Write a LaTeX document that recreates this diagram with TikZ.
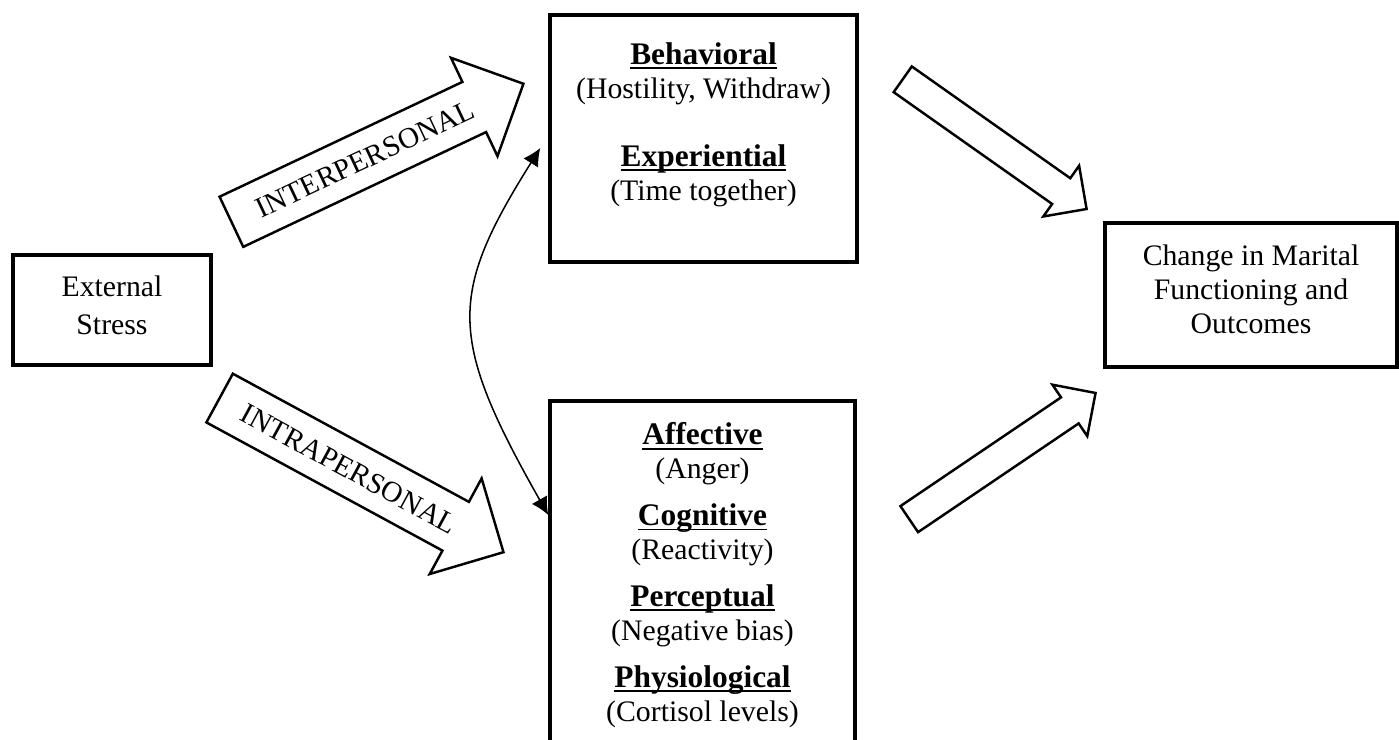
\documentclass[tikz,border=0pt]{standalone}
\usepackage{fontspec}
\setmainfont{Liberation Serif}
\usetikzlibrary{shapes.arrows,arrows.meta}

\newsavebox\hdbox
\newcommand{\hd}[1]{\sbox\hdbox{\fontsize{13.4}{14.5}\selectfont\textbf{#1}}\rlap{\rule[-2pt]{\wd\hdbox}{0.8pt}}\usebox\hdbox}

\begin{document}
\begin{tikzpicture}[x=0.15mm,y=-0.15mm,font=\fontsize{12.7}{14.5}\selectfont,
    box/.style={draw,line width=1.5pt,align=center,inner sep=0pt},
    blockarrow/.style={single arrow,draw,line width=1.05pt,single arrow head extend=4mm,anchor=tip,
        inner xsep=0pt,inner ysep=2.475mm,text height=3mm,text depth=0pt,minimum height=48.45mm,
        font=\fontsize{12.5}{14.5}\selectfont},
    fatarrow/.style={single arrow,draw,line width=1.05pt,single arrow head extend=2.3mm,anchor=tip,
        inner xsep=0pt,inner ysep=2.175mm,text height=0pt,text depth=0pt,minimum height=33.75mm},
    >={Latex[length=7.5pt,width=7.5pt]}]
    \useasboundingbox (0,0) rectangle (1399,739);
    \node[box,minimum width=29.7mm,minimum height=16.5mm] at (112,310) (S) {External\\[1.7pt]Stress\\[-10.2pt]\mbox{}};
    \node[box,minimum width=46.05mm,minimum height=37.05mm] at (703.5,138.5) (B) {\hd{Behavioral}\\(Hostility, Withdraw)\\[14.5pt]\hd{Experiential}\\(Time together)\\ \mbox{}};
    \node[box,minimum width=45.75mm,inner ysep=3.3mm,anchor=north] at (702.5,399) (A) {\hd{Affective}\\(Anger)\\[5.5pt]\hd{Cognitive}\\(Reactivity)\\[5.5pt]\hd{Perceptual}\\(Negative bias)\\[5.5pt]\hd{Physiological}\\(Cortisol levels)};
    \node[box,minimum width=43.8mm,minimum height=21.6mm] at (1251,295) (M) {Change in Marital\\Functioning and\\Outcomes\\[-9.4pt]\mbox{}};
    \node[blockarrow,rotate=25.3] at (525,83) (Inter) {INTERPERSONAL};
    \node[blockarrow,rotate=-28.5] at (505,553) (Intra) {INTRAPERSONAL};
    \node[fatarrow,rotate=-35.2] at (1088,210) (BM) {};
    \node[fatarrow,rotate=34.1] at (1097,392) (AM) {};
    \draw[<->,line width=0.65pt] ([shift={(-8,9.5)}]B.west) .. controls (448,295) and (448,338) .. ([shift={(0,116)}]A.north west);
\end{tikzpicture}
\end{document}
